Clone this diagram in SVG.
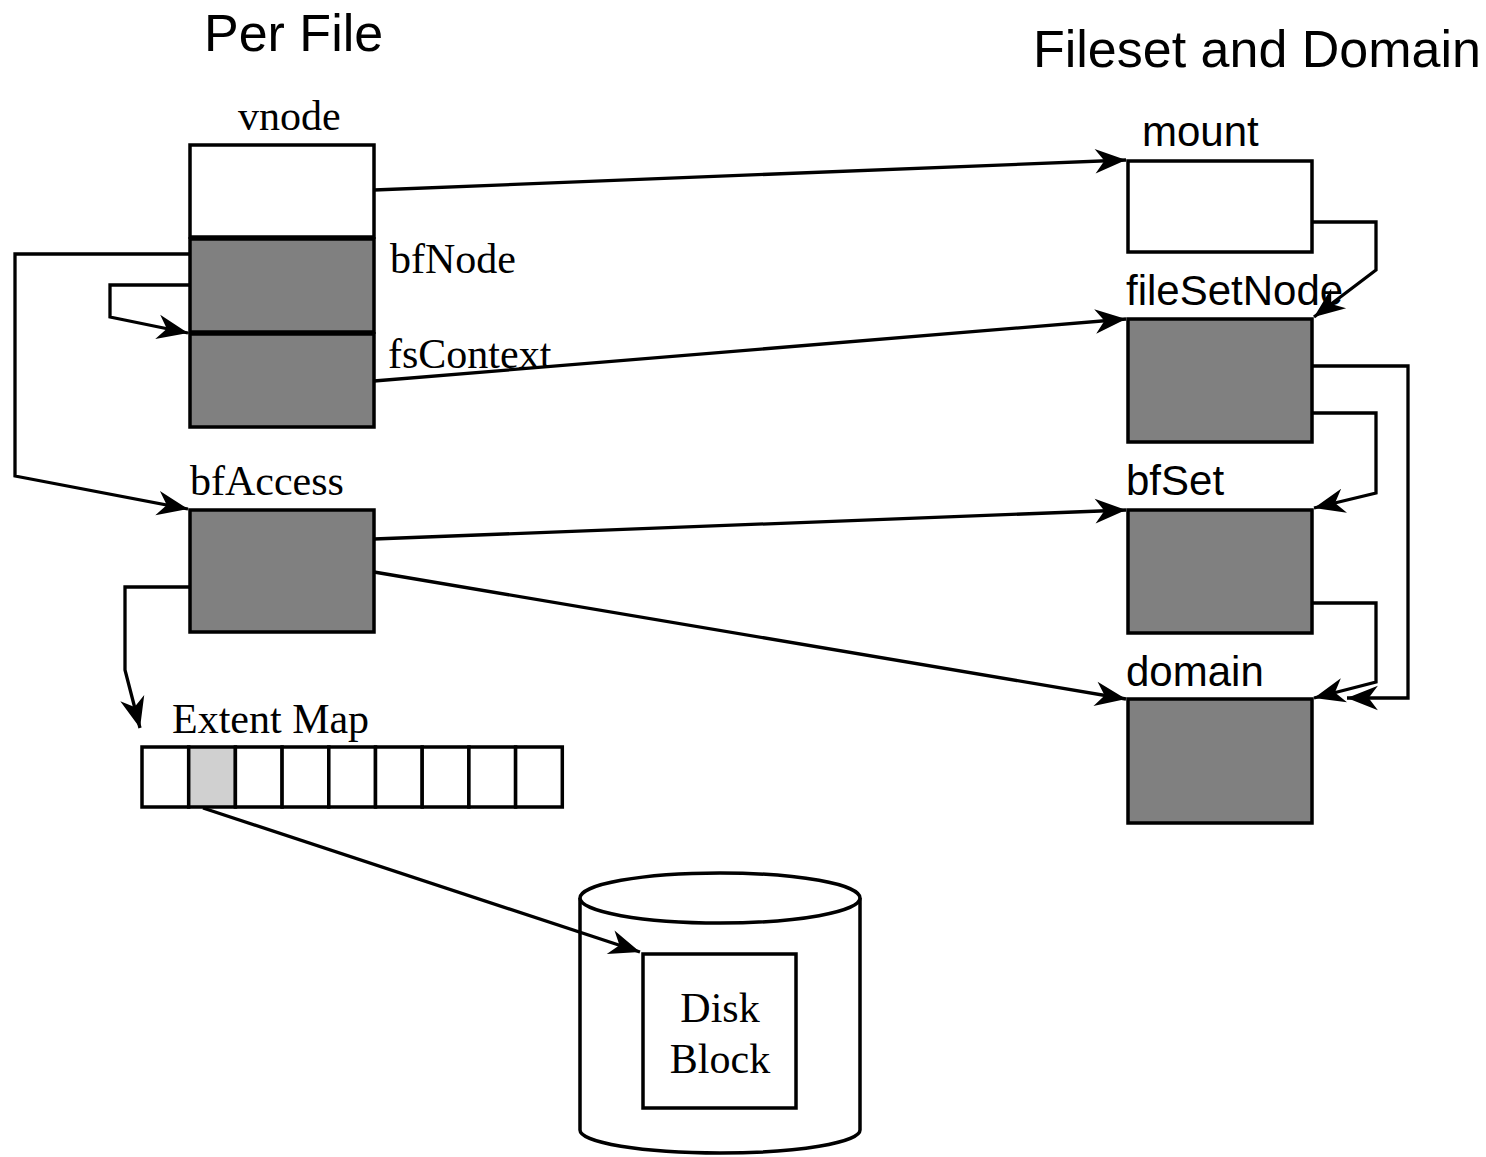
<svg xmlns="http://www.w3.org/2000/svg" width="1486" height="1157" viewBox="0 0 1486 1157">
  <style>
    .box { stroke: #000; stroke-width: 3.5; }
    .white { fill: #fff; }
    .dark { fill: #808080; }
    .light { fill: #d0d0d0; }
    .wire { fill: none; stroke: #000; stroke-width: 3.3; marker-end: url(#arrow); }
    .sans { font-family: "Liberation Sans", Arial, sans-serif; fill: #000; }
    .serif { font-family: "Liberation Serif", "Times New Roman", serif; fill: #000; }
  </style>
  <defs>
    <marker id="arrow" markerUnits="userSpaceOnUse" markerWidth="34" markerHeight="28" viewBox="-31 -13 33 26" refX="0" refY="0" orient="auto">
      <path d="M0 0 L-30 -12 L-21 0 L-30 12 Z" fill="#000"/>
    </marker>
  </defs>

  <rect width="1486" height="1157" fill="#fff"/>

  <!-- section headings -->
  <text class="sans" x="204" y="51" font-size="52">Per File</text>
  <text class="sans" x="1033" y="67" font-size="52">Fileset and Domain</text>

  <!-- per-file structures -->
  <g id="vnode">
    <rect class="box white" x="190" y="145" width="184" height="92"/>
    <text class="serif" x="238" y="130" font-size="42">vnode</text>
  </g>
  <g id="bfNode">
    <rect class="box dark" x="190" y="239" width="184" height="93"/>
    <text class="serif" x="390" y="273" font-size="42">bfNode</text>
  </g>
  <g id="fsContext">
    <rect class="box dark" x="190" y="334" width="184" height="93"/>
    <text class="serif" x="388" y="368" font-size="42">fsContext</text>
  </g>
  <g id="bfAccess">
    <rect class="box dark" x="190" y="510" width="184" height="122"/>
    <text class="serif" x="190" y="495" font-size="42">bfAccess</text>
  </g>
  <g id="extentMap">
    <text class="serif" x="172" y="733" font-size="42">Extent Map</text>
    <rect class="box white" x="142" y="747" width="46.7" height="60"/>
    <rect class="box light" x="188.7" y="747" width="46.7" height="60"/>
    <rect class="box white" x="235.4" y="747" width="46.7" height="60"/>
    <rect class="box white" x="282.1" y="747" width="46.7" height="60"/>
    <rect class="box white" x="328.8" y="747" width="46.7" height="60"/>
    <rect class="box white" x="375.5" y="747" width="46.7" height="60"/>
    <rect class="box white" x="422.2" y="747" width="46.7" height="60"/>
    <rect class="box white" x="468.9" y="747" width="46.7" height="60"/>
    <rect class="box white" x="515.6" y="747" width="46.7" height="60"/>
  </g>
  <g id="disk">
    <path class="box white" d="M580 898 L580 1130 A140 23 0 0 0 860 1130 L860 898"/>
    <ellipse class="box white" cx="720" cy="898" rx="140" ry="25"/>
  </g>
  <g id="diskBlock">
    <rect class="box white" x="643" y="954" width="153" height="154"/>
    <text class="serif" x="720" y="1022" font-size="42" text-anchor="middle">Disk</text>
    <text class="serif" x="720" y="1073" font-size="42" text-anchor="middle">Block</text>
  </g>

  <!-- fileset and domain structures -->
  <g id="mount">
    <rect class="box white" x="1128" y="161" width="184" height="91"/>
    <text class="sans" x="1142" y="146" font-size="42">mount</text>
  </g>
  <g id="fileSetNode">
    <rect class="box dark" x="1128" y="319" width="184" height="123"/>
    <text class="sans" x="1126" y="305" font-size="42">fileSetNode</text>
  </g>
  <g id="bfSet">
    <rect class="box dark" x="1128" y="510" width="184" height="123"/>
    <text class="sans" x="1126" y="495" font-size="42">bfSet</text>
  </g>
  <g id="domain">
    <rect class="box dark" x="1128" y="699" width="184" height="124"/>
    <text class="sans" x="1126" y="686" font-size="42">domain</text>
  </g>

  <!-- connectors -->
  <g id="connectors">
    <path class="wire" d="M190 254 L15 254 L15 476 L188 509"/>
    <path class="wire" d="M190 285 L110 285 L110 317 L188 333"/>
    <path class="wire" d="M190 587 L125 587 L125 670 L140 728"/>
    <path class="wire" d="M203 808 L640 952"/>
    <path class="wire" d="M374 190 L1126 160"/>
    <path class="wire" d="M374 381 L1126 319"/>
    <path class="wire" d="M374 539 L1126 510"/>
    <path class="wire" d="M374 572 L1126 699"/>
    <path class="wire" d="M1312 222 L1376 222 L1376 270 L1314 317"/>
    <path class="wire" d="M1312 413 L1376 413 L1376 493 L1314 508"/>
    <path class="wire" d="M1312 366 L1408 366 L1408 698 L1347 698"/>
    <path class="wire" d="M1312 603 L1376 603 L1376 682 L1314 698"/>
  </g>
</svg>
